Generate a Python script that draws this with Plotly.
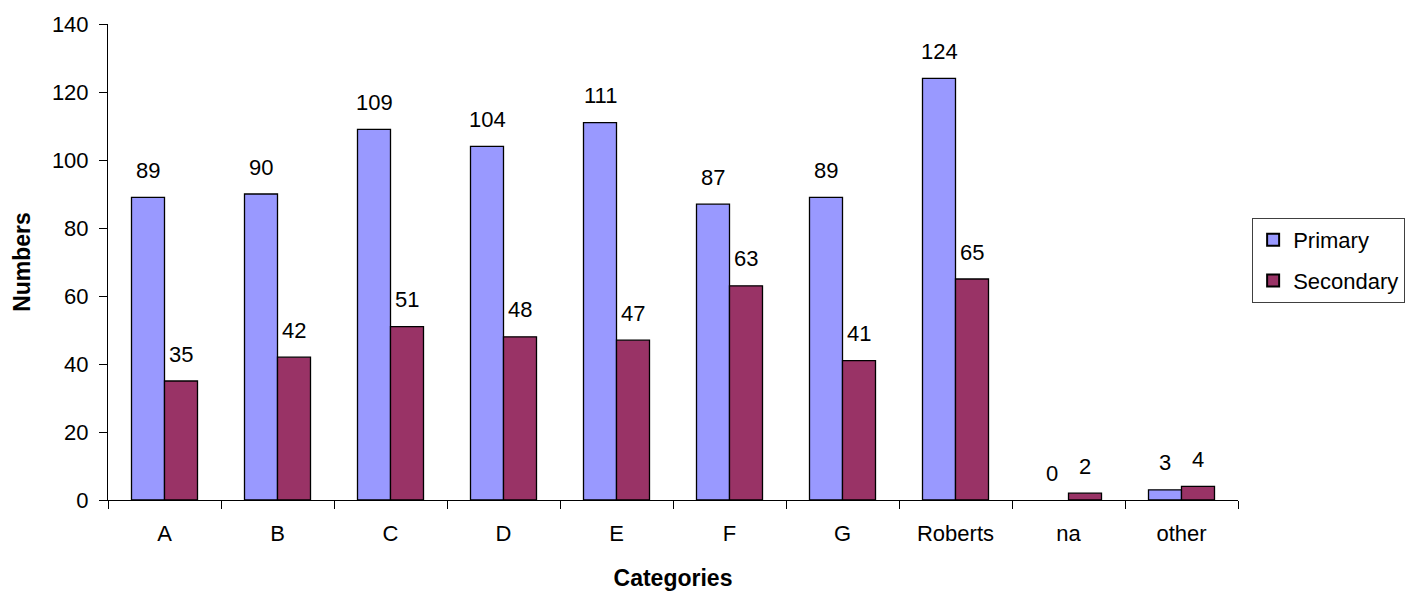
import plotly.graph_objects as go

categories = ["A", "B", "C", "D", "E", "F", "G", "Roberts", "na", "other"]
primary = [89, 90, 109, 104, 111, 87, 89, 124, 0, 3]
secondary = [35, 42, 51, 48, 47, 63, 41, 65, 2, 4]

FONT = "Liberation Sans, Arial, sans-serif"
PRIMARY_COLOR = "#9999FF"
SECONDARY_COLOR = "#993366"
TEXT_SIZE = 22


def outline_widths(values):
    # an empty bar gets no outline so it does not thicken the axis line
    return [0 if v == 0 else 1.3 for v in values]


fig = go.Figure()
fig.add_trace(go.Bar(
    name="Primary", x=categories, y=primary, legendgroup="primary",
    marker=dict(color=PRIMARY_COLOR,
                line=dict(color="black", width=outline_widths(primary))),
))
fig.add_trace(go.Bar(
    name="Secondary", x=categories, y=secondary, legendgroup="secondary",
    marker=dict(color=SECONDARY_COLOR,
                line=dict(color="black", width=outline_widths(secondary))),
))

# value labels floating above each bar
annotations = []
for i, cat in enumerate(categories):
    for vals, shift in ((primary, -16.5), (secondary, 16.5)):
        annotations.append(dict(
            x=cat, y=vals[i], xref="x", yref="y", text=str(vals[i]),
            showarrow=False, xshift=shift, yshift=27, yanchor="middle",
            font=dict(family=FONT, size=TEXT_SIZE, color="black"),
        ))

fig.update_layout(
    width=1406, height=591,
    margin=dict(l=108, r=168, t=24, b=91, autoexpand=False),
    paper_bgcolor="white", plot_bgcolor="white",
    barmode="group", bargap=0.416, bargroupgap=0,
    font=dict(family=FONT, size=TEXT_SIZE, color="black"),
    annotations=annotations,
    showlegend=True,
    legend=dict(
        x=1.0125, y=0.5924, xanchor="left", yanchor="top",
        bordercolor="#404040", borderwidth=1, bgcolor="white",
        font=dict(family=FONT, size=TEXT_SIZE, color="black"),
        itemsizing="constant", tracegroupgap=9,
    ),
    xaxis=dict(
        showline=True, linecolor="black", linewidth=1,
        ticks="outside", ticklen=8, tickcolor="black", tickson="boundaries",
        ticklabelstandoff=14,
        showgrid=False, tickfont=dict(family=FONT, size=TEXT_SIZE),
        title=dict(text="<b>Categories</b>", font=dict(family=FONT, size=23), standoff=24),
    ),
    yaxis=dict(
        range=[0, 140], dtick=20,
        showline=True, linecolor="black", linewidth=1,
        ticks="outside", ticklen=8, tickcolor="black",
        ticklabelstandoff=6,
        showgrid=False, zeroline=False, tickfont=dict(family=FONT, size=TEXT_SIZE),
        title=dict(text="<b>Numbers</b>", font=dict(family=FONT, size=23), standoff=14),
    ),
)

fig.write_html("out.html")
